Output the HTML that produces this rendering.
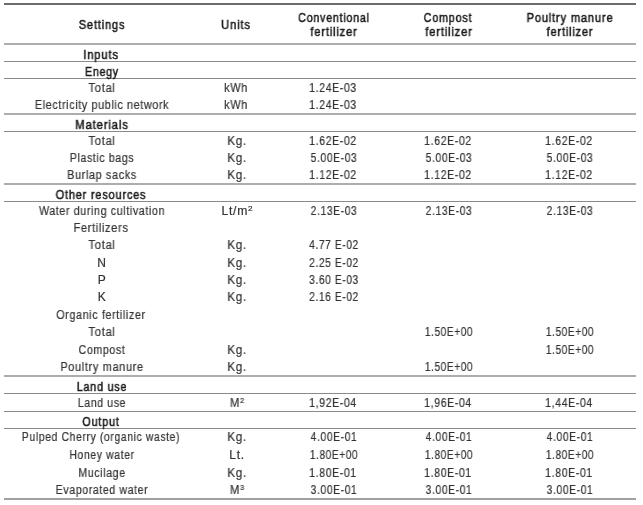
<!DOCTYPE html>
<html><head><meta charset="utf-8"><style>
html,body{margin:0;padding:0;background:#fff;width:643px;height:505px;overflow:hidden;position:relative}
.t{position:absolute;white-space:nowrap;font-family:"Liberation Sans",sans-serif;font-size:12px;line-height:12px;height:12px;width:400px;text-align:center;transform-origin:50% 50%;will-change:transform;color:#333;-webkit-text-stroke:0.2px #333;letter-spacing:0.7px}
.b{font-weight:normal;color:#1a1a1a;-webkit-text-stroke:0.5px #1a1a1a;letter-spacing:0.9px}
.l{position:absolute;left:4px;width:632px}
.sup{font-size:8px;position:relative;top:-4px;letter-spacing:0}
</style></head><body>
<div class="l" style="top:3px;height:2px;background:#6b6b6b"></div>
<div class="l" style="top:43px;height:2px;background:#adadad"></div>
<div class="l" style="top:61px;height:1px;background:#8a8a8a"></div>
<div class="l" style="top:78px;height:1px;background:#8a8a8a"></div>
<div class="l" style="top:113px;height:2px;background:#adadad"></div>
<div class="l" style="top:131px;height:1px;background:#8a8a8a"></div>
<div class="l" style="top:183px;height:2px;background:#adadad"></div>
<div class="l" style="top:201px;height:1px;background:#8a8a8a"></div>
<div class="l" style="top:375px;height:2px;background:#adadad"></div>
<div class="l" style="top:393px;height:1px;background:#8a8a8a"></div>
<div class="l" style="top:411px;height:1px;background:#8a8a8a"></div>
<div class="l" style="top:428px;height:1px;background:#8a8a8a"></div>
<div class="l" style="top:498px;height:2px;background:#a0a0a0"></div>
<div class="t b" style="left:-98.34px;top:19px;transform:scaleX(0.9184)">Settings</div>
<div class="t b" style="left:35.80px;top:19px;transform:scaleX(0.9333)">Units</div>
<div class="t b" style="left:133.54px;top:12px;transform:scaleX(0.8861)">Conventional</div>
<div class="t b" style="left:134.01px;top:26px;transform:scaleX(0.9275)">fertilizer</div>
<div class="t b" style="left:248.05px;top:12px;transform:scaleX(0.8944)">Compost</div>
<div class="t b" style="left:248.52px;top:26px;transform:scaleX(0.9314)">fertilizer</div>
<div class="t b" style="left:370.00px;top:12px;transform:scaleX(0.9239)">Poultry manure</div>
<div class="t b" style="left:369.91px;top:26px;transform:scaleX(0.9157)">fertilizer</div>
<div class="t b" style="left:-99.00px;top:49px;transform:scaleX(0.9333)">Inputs</div>
<div class="t b" style="left:-97.96px;top:66px;transform:scaleX(0.8757)">Enegy</div>
<div class="t" style="left:-97.93px;top:82px;transform:scaleX(0.9407)">Total</div>
<div class="t" style="left:36.40px;top:82px;transform:scaleX(0.9083)">kWh</div>
<div class="t" style="left:133.30px;top:82px;transform:scaleX(0.8750);letter-spacing:0.7px">1.24E-03</div>
<div class="t" style="left:-98.45px;top:99px;transform:scaleX(0.8980)">Electricity public network</div>
<div class="t" style="left:36.40px;top:99px;transform:scaleX(0.9083)">kWh</div>
<div class="t" style="left:133.30px;top:99px;transform:scaleX(0.8750);letter-spacing:0.7px">1.24E-03</div>
<div class="t b" style="left:-98.43px;top:119px;transform:scaleX(0.9418)">Materials</div>
<div class="t" style="left:-97.93px;top:135px;transform:scaleX(0.9407)">Total</div>
<div class="t" style="left:36.68px;top:135px;transform:scaleX(0.9647)">Kg.</div>
<div class="t" style="left:133.30px;top:135px;transform:scaleX(0.8750);letter-spacing:0.7px">1.62E-02</div>
<div class="t" style="left:248.20px;top:135px;transform:scaleX(0.8750);letter-spacing:0.7px">1.62E-02</div>
<div class="t" style="left:369.30px;top:135px;transform:scaleX(0.8750);letter-spacing:0.7px">1.62E-02</div>
<div class="t" style="left:-98.46px;top:152px;transform:scaleX(0.8817)">Plastic bags</div>
<div class="t" style="left:36.68px;top:152px;transform:scaleX(0.9647)">Kg.</div>
<div class="t" style="left:133.73px;top:152px;transform:scaleX(0.8585);letter-spacing:0.7px">5.00E-03</div>
<div class="t" style="left:248.63px;top:152px;transform:scaleX(0.8585);letter-spacing:0.7px">5.00E-03</div>
<div class="t" style="left:369.73px;top:152px;transform:scaleX(0.8585);letter-spacing:0.7px">5.00E-03</div>
<div class="t" style="left:-98.30px;top:169px;transform:scaleX(0.9053)">Burlap sacks</div>
<div class="t" style="left:36.68px;top:169px;transform:scaleX(0.9647)">Kg.</div>
<div class="t" style="left:133.30px;top:169px;transform:scaleX(0.8750);letter-spacing:0.7px">1.12E-02</div>
<div class="t" style="left:248.20px;top:169px;transform:scaleX(0.8750);letter-spacing:0.7px">1.12E-02</div>
<div class="t" style="left:369.30px;top:169px;transform:scaleX(0.8750);letter-spacing:0.7px">1.12E-02</div>
<div class="t b" style="left:-98.55px;top:189px;transform:scaleX(0.9112)">Other resources</div>
<div class="t" style="left:-97.61px;top:205px;transform:scaleX(0.8900)">Water during cultivation</div>
<div class="t" style="left:36.59px;top:205px;transform:scaleX(1.0138)">Lt/m<span class=sup>2</span></div>
<div class="t" style="left:133.73px;top:205px;transform:scaleX(0.8585);letter-spacing:0.7px">2.13E-03</div>
<div class="t" style="left:248.63px;top:205px;transform:scaleX(0.8585);letter-spacing:0.7px">2.13E-03</div>
<div class="t" style="left:369.73px;top:205px;transform:scaleX(0.8585);letter-spacing:0.7px">2.13E-03</div>
<div class="t" style="left:-98.55px;top:222px;transform:scaleX(0.9224)">Fertilizers</div>
<div class="t" style="left:-97.93px;top:239px;transform:scaleX(0.9407)">Total</div>
<div class="t" style="left:36.68px;top:239px;transform:scaleX(0.9647)">Kg.</div>
<div class="t" style="left:133.72px;top:239px;transform:scaleX(0.8491);letter-spacing:0.7px">4.77 E-02</div>
<div class="t" style="left:-98.20px;top:257px;transform:scaleX(1.0000)">N</div>
<div class="t" style="left:36.68px;top:257px;transform:scaleX(0.9647)">Kg.</div>
<div class="t" style="left:133.72px;top:257px;transform:scaleX(0.8491);letter-spacing:0.7px">2.25 E-02</div>
<div class="t" style="left:-98.50px;top:274px;transform:scaleX(1.0000)">P</div>
<div class="t" style="left:36.68px;top:274px;transform:scaleX(0.9647)">Kg.</div>
<div class="t" style="left:133.72px;top:274px;transform:scaleX(0.8491);letter-spacing:0.7px">3.60 E-03</div>
<div class="t" style="left:-98.40px;top:291px;transform:scaleX(1.0000)">K</div>
<div class="t" style="left:36.68px;top:291px;transform:scaleX(0.9647)">Kg.</div>
<div class="t" style="left:133.72px;top:291px;transform:scaleX(0.8491);letter-spacing:0.7px">2.16 E-02</div>
<div class="t" style="left:-98.90px;top:309px;transform:scaleX(0.8939)">Organic fertilizer</div>
<div class="t" style="left:-97.93px;top:326px;transform:scaleX(0.9407)">Total</div>
<div class="t" style="left:248.62px;top:326px;transform:scaleX(0.8400);letter-spacing:0.7px">1.50E+00</div>
<div class="t" style="left:369.72px;top:326px;transform:scaleX(0.8400);letter-spacing:0.7px">1.50E+00</div>
<div class="t" style="left:-98.50px;top:344px;transform:scaleX(0.8846)">Compost</div>
<div class="t" style="left:36.68px;top:344px;transform:scaleX(0.9647)">Kg.</div>
<div class="t" style="left:369.72px;top:344px;transform:scaleX(0.8400);letter-spacing:0.7px">1.50E+00</div>
<div class="t" style="left:-97.84px;top:361px;transform:scaleX(0.9146)">Poultry manure</div>
<div class="t" style="left:36.68px;top:361px;transform:scaleX(0.9647)">Kg.</div>
<div class="t" style="left:248.62px;top:361px;transform:scaleX(0.8400);letter-spacing:0.7px">1.50E+00</div>
<div class="t b" style="left:-98.35px;top:381px;transform:scaleX(0.8909)">Land use</div>
<div class="t" style="left:-98.31px;top:397px;transform:scaleX(0.8774)">Land use</div>
<div class="t" style="left:36.50px;top:397px;transform:scaleX(0.9286)">M<span class=sup>2</span></div>
<div class="t" style="left:133.30px;top:397px;transform:scaleX(0.8750);letter-spacing:0.7px">1,92E-04</div>
<div class="t" style="left:248.20px;top:397px;transform:scaleX(0.8750);letter-spacing:0.7px">1,96E-04</div>
<div class="t" style="left:369.30px;top:397px;transform:scaleX(0.8750);letter-spacing:0.7px">1,44E-04</div>
<div class="t b" style="left:-98.55px;top:416px;transform:scaleX(0.9025)">Output</div>
<div class="t" style="left:-98.90px;top:431px;transform:scaleX(0.8678)">Pulped Cherry (organic waste)</div>
<div class="t" style="left:36.68px;top:431px;transform:scaleX(0.9647)">Kg.</div>
<div class="t" style="left:133.73px;top:431px;transform:scaleX(0.8585);letter-spacing:0.7px">4.00E-01</div>
<div class="t" style="left:248.63px;top:431px;transform:scaleX(0.8585);letter-spacing:0.7px">4.00E-01</div>
<div class="t" style="left:369.73px;top:431px;transform:scaleX(0.8585);letter-spacing:0.7px">4.00E-01</div>
<div class="t" style="left:-98.50px;top:449px;transform:scaleX(0.8703)">Honey water</div>
<div class="t" style="left:37.00px;top:449px;transform:scaleX(1.0000)">Lt.</div>
<div class="t" style="left:133.72px;top:449px;transform:scaleX(0.8400);letter-spacing:0.7px">1.80E+00</div>
<div class="t" style="left:248.62px;top:449px;transform:scaleX(0.8400);letter-spacing:0.7px">1.80E+00</div>
<div class="t" style="left:369.72px;top:449px;transform:scaleX(0.8400);letter-spacing:0.7px">1.80E+00</div>
<div class="t" style="left:-98.50px;top:467px;transform:scaleX(0.8846)">Mucilage</div>
<div class="t" style="left:36.68px;top:467px;transform:scaleX(0.9647)">Kg.</div>
<div class="t" style="left:133.30px;top:467px;transform:scaleX(0.8750);letter-spacing:0.7px">1.80E-01</div>
<div class="t" style="left:248.20px;top:467px;transform:scaleX(0.8750);letter-spacing:0.7px">1.80E-01</div>
<div class="t" style="left:369.30px;top:467px;transform:scaleX(0.8750);letter-spacing:0.7px">1.80E-01</div>
<div class="t" style="left:-98.30px;top:484px;transform:scaleX(0.8788)">Evaporated water</div>
<div class="t" style="left:36.50px;top:484px;transform:scaleX(0.9286)">M<span class=sup>3</span></div>
<div class="t" style="left:133.73px;top:484px;transform:scaleX(0.8585);letter-spacing:0.7px">3.00E-01</div>
<div class="t" style="left:248.63px;top:484px;transform:scaleX(0.8585);letter-spacing:0.7px">3.00E-01</div>
<div class="t" style="left:369.73px;top:484px;transform:scaleX(0.8585);letter-spacing:0.7px">3.00E-01</div>
</body></html>
